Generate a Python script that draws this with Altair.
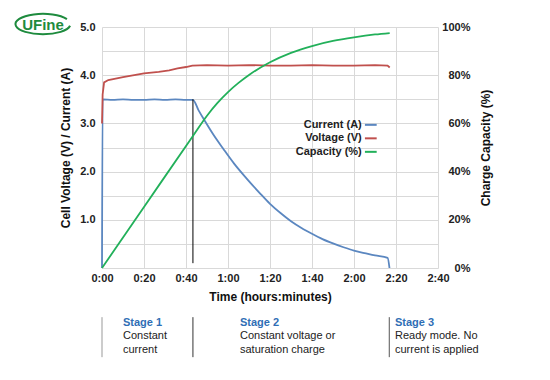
import altair as alt
import pandas as pd

# ---- data ----
cur_t = [0, 0.3, 5, 10, 15, 20, 25, 30, 35, 40, 43.3, 46, 49, 53, 57.8, 63, 69, 75, 80, 85, 90, 95, 100, 105, 110, 115, 120, 125, 130, 136, 136.9]
cur_v = [0, 3.5, 3.49, 3.5, 3.49, 3.49, 3.5, 3.49, 3.5, 3.49, 3.49, 3.27, 3.05, 2.77, 2.47, 2.16, 1.85, 1.56, 1.33, 1.14, 0.97, 0.83, 0.71, 0.60, 0.51, 0.43, 0.36, 0.31, 0.26, 0.21, 0.0]

volt_t = [0, 0.3, 1, 3, 10, 20, 27, 32, 36, 40, 43, 50, 60, 70, 80, 90, 100, 110, 120, 130, 136, 137]
volt_v = [3.0, 3.6, 3.85, 3.9, 3.96, 4.04, 4.07, 4.1, 4.14, 4.17, 4.2, 4.21, 4.2, 4.21, 4.2, 4.2, 4.21, 4.2, 4.2, 4.21, 4.2, 4.16]

cap_t = [0, 20, 43.3, 50, 55, 60, 65, 70, 80, 90, 100, 110, 120, 130, 137]
cap_v = [0, 25.3, 54.8, 63.2, 68.5, 73.0, 76.8, 80.1, 85.4, 89.3, 92.1, 94.2, 95.7, 96.9, 97.5]

series_names = ["Current (A)", "Voltage (V)", "Capacity (%)"]
series_colors = ["#5b87c0", "#c0504d", "#22b05a"]

x_ticks = [0, 20, 40, 60, 80, 100, 120, 140, 160]
y_ticks = [0, 0.5, 1, 1.5, 2, 2.5, 3, 3.5, 4, 4.5, 5]
pct_ticks = [0, 20, 40, 60, 80, 100]

# stage markers (time, label lines)
stage_lines_t = [0, 43.3, 136.8]
stage_line_colors = ["#999999", "#333333", "#555555"]
stage_text_t = [10, 65.7, 139.5]
stage_titles = ["Stage 1", "Stage 2", "Stage 3"]
stage_body1 = ["Constant", "Constant voltage or", "Ready mode. No"]
stage_body2 = ["current", "saturation charge", "current is applied"]

# legend placement in data units
legend_t = 123.7
legend_y = [2.97, 2.69, 2.41]

cur_df = pd.DataFrame({"t": cur_t, "v": cur_v, "s": series_names[0]})
volt_df = pd.DataFrame({"t": volt_t, "v": volt_v, "s": series_names[1]})
cap_df = pd.DataFrame({"t": cap_t, "v": cap_v})

FONT = "Liberation Sans"
time_expr = "floor(datum.value/60) + ':' + (datum.value % 60 < 10 ? '0' : '') + (datum.value % 60)"

xscale = alt.Scale(domain=[0, 160], nice=False)
yscale = alt.Scale(domain=[0, 5], nice=False)
color = alt.Color("s:N", scale=alt.Scale(domain=series_names, range=series_colors), legend=None)

x_axis = alt.Axis(values=x_ticks, labelExpr=time_expr, title="Time (hours:minutes)",
                  grid=True, gridColor="#d9d9d9", domain=False, ticks=False,
                  labelPadding=4, titlePadding=8, labelFlush=False)
y_axis = alt.Axis(values=y_ticks,
                  labelExpr="datum.value % 1 == 0 && datum.value > 0 ? format(datum.value, '.1f') : ''",
                  title="Cell Voltage (V) / Current (A)", grid=True, gridColor="#d9d9d9",
                  domain=False, ticks=False, labelPadding=7, titlePadding=7)


def X(field):
    return alt.X(field, type="quantitative", scale=xscale, axis=x_axis)


def Y(field):
    return alt.Y(field, type="quantitative", scale=yscale, axis=y_axis)


cur_line = alt.Chart(cur_df).mark_line(strokeWidth=1.8, interpolate="monotone").encode(
    x=X("t"), y=Y("v"), color=color)
volt_line = alt.Chart(volt_df).mark_line(strokeWidth=1.8).encode(
    x=X("t"), y=Y("v"), color=color)

# black vertical line at end of stage 1
black_df = pd.DataFrame({"t": [43.3], "y1": [3.5], "y2": [0.1]})
black = alt.Chart(black_df).mark_rule(color="#000000", strokeWidth=1).encode(
    x=X("t"), y=Y("y1"), y2="y2:Q")

# legend
leg_df = pd.DataFrame({"t": [legend_t] * 3, "y": legend_y, "s": series_names,
                       "t1": [legend_t + 1.5] * 3, "t2": [legend_t + 7.1] * 3})
leg_text = alt.Chart(leg_df).mark_text(align="right", baseline="middle", font=FONT,
                                       fontWeight="bold", fontSize=11, color="#222222").encode(
    x=X("t"), y=Y("y"), text="s:N")
leg_line = alt.Chart(leg_df).mark_rule(strokeWidth=2).encode(
    x=X("t1"), x2="t2:Q", y=Y("y"), color=color)

# stage annotations below the axis
sl_df = pd.DataFrame({"t": stage_lines_t, "y1": [-1.02] * 3, "y2": [-1.85] * 3, "c": stage_line_colors})
stage_rules = alt.Chart(sl_df).mark_rule(strokeWidth=1).encode(
    x=X("t"), y=Y("y1"), y2="y2:Q", color=alt.Color("c:N", scale=None))

st_df = pd.DataFrame({"t": stage_text_t, "y": [-1.135] * 3, "txt": stage_titles})
stage_title = alt.Chart(st_df).mark_text(align="left", baseline="middle", font=FONT, fontWeight="bold",
                                         fontSize=11, color="#2f6eb5").encode(
    x=X("t"), y=Y("y"), text="txt:N")
sb_df = pd.DataFrame({"t": stage_text_t * 2, "y": [-1.41] * 3 + [-1.70] * 3,
                      "txt": stage_body1 + stage_body2})
stage_body = alt.Chart(sb_df).mark_text(align="left", baseline="middle", font=FONT,
                                        fontSize=11, color="#222222").encode(
    x=X("t"), y=Y("y"), text="txt:N")

# logo
logo_df = pd.DataFrame({"name": ["UFine"]})
logo_text = alt.Chart(logo_df).mark_text(font=FONT, fontWeight="bold", fontSize=15, color="#1e8b3e",
                                         baseline="middle").encode(
    x=alt.value(-59), y=alt.value(-2), text="name:N")
logo_ring = alt.Chart(logo_df).mark_point(
    shape="M 0.87,-0.18 A 1 0.37 0 1 0 0.985,0.065", size=3025, filled=False,
    stroke="#1e8b3e", strokeWidth=2, opacity=1).encode(
    x=alt.value(-59), y=alt.value(-3), detail="name:N")

left = alt.layer(cur_line, volt_line, black, leg_line, leg_text, stage_rules, stage_title, stage_body,
                 logo_ring, logo_text)

cap = alt.Chart(cap_df).mark_line(strokeWidth=1.8, color="#22b05a", interpolate="monotone").encode(
    x=X("t"),
    y=alt.Y("v:Q", scale=alt.Scale(domain=[0, 100], nice=False),
            axis=alt.Axis(orient="right", values=pct_ticks, labelExpr="datum.value + '%'",
                          title="Charge Capacity (%)", titleAngle=270, grid=False, domain=False,
                          ticks=False, labelAlign="right", labelPadding=32, titlePadding=22)),
)

chart = alt.layer(left, cap).resolve_scale(y="independent").properties(
    width=336, height=241,
    autosize=alt.AutoSizeParams(type="none"),
    padding={"left": 94, "top": 19, "right": 100, "bottom": 104},
).configure_view(stroke=None).configure_axis(
    labelFont=FONT, titleFont=FONT, labelFontSize=11, titleFontSize=12,
    labelFontWeight="bold", titleFontWeight="bold", labelColor="#222222", titleColor="#111111",
)

chart.save("out.html", embed_options={"renderer": "svg", "actions": False})
